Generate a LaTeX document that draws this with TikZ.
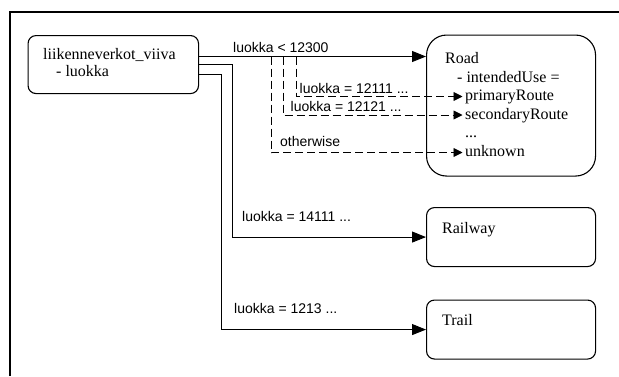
\documentclass[tikz,border=0pt]{standalone}
\usepackage{fontspec}
\setmainfont{Liberation Serif}
\newfontfamily\labelfont{Liberation Sans}
\usetikzlibrary{arrows.meta}

\tikzset{
  box/.style={draw, line width=1.1pt, rounded corners=#1, inner sep=0pt, anchor=north west},
  boxtext/.style={anchor=base west, inner sep=0pt, font=\fontsize{16}{18}\selectfont},
  cond/.style={anchor=base west, inner sep=0pt, font=\labelfont\fontsize{14}{16}\selectfont},
  flow/.style={line width=0.9pt, -{Triangle[length=14pt,width=11pt]}},
  subflow/.style={line width=0.9pt, dash pattern=on 8pt off 4pt, -{Triangle[length=9pt,width=9pt]}},
}

\begin{document}
\begin{tikzpicture}[x=1pt,y=-1pt]
\useasboundingbox (0,0) rectangle (619,376);

% frame (open to the right and bottom)
\draw[line width=2pt] (10,376) -- (10,12.3) -- (619,12.3);

% source feature class
\node[box=8pt, minimum width=170.5pt, minimum height=58pt] (src) at (27.5,35) {};
\node[boxtext] (srcname) at (43,59) {liikenneverkot\_viiva};
\node[boxtext] (srcattr) at (56,76.5) {- luokka};

% target classes
\node[box=20pt, minimum width=169pt, minimum height=141pt] (road) at (426,34.5) {};
\node[box=8pt, minimum width=169pt, minimum height=59pt] (rail) at (426,207) {};
\node[box=8pt, minimum width=169pt, minimum height=59pt] (trail) at (426,299.5) {};

\node[boxtext] (roadname) at (445,63) {Road};
\node[boxtext] (roadattr) at (457,82) {- intendedUse =};
\node[boxtext] (vprim) at (465,100.6) {primaryRoute};
\node[boxtext] (vsec) at (465,119.2) {secondaryRoute};
\node[boxtext] (vdots) at (465,137.8) {...};
\node[boxtext] (vunk) at (465,156.4) {unknown};
\node[boxtext] (railname) at (442,233) {Railway};
\node[boxtext] (trailname) at (442,325) {Trail};

% connection points
\coordinate (o1) at (198,56.5);
\coordinate (o2) at (198,64.5);
\coordinate (o3) at (198,74.5);
\coordinate (inPrim) at (462.5,96.5);
\coordinate (inSec) at (462.5,115);
\coordinate (inUnk) at (462.5,152.5);
\coordinate (b1) at (296,56.5);
\coordinate (b2) at (283,56.5);
\coordinate (b3) at (271,56.5);

% main mappings
\draw[flow] (o1) -- (o1 -| road.west);
\draw[flow] (o2) -- (232,64.5) |- (rail.west);
\draw[flow] (o3) -- (221,74.5) |- (trail.west);

% value mappings for intendedUse
\draw[subflow] (b1) |- (inPrim);
\draw[subflow] (b2) |- (inSec);
\draw[subflow] (b3) |- (inUnk);

% conditions
\node[cond] (c1) at (233,52) {luokka < 12300};
\node[cond] (c2) at (299.5,93) {luokka = 12111 ...};
\node[cond] (c3) at (290.5,111.5) {luokka = 12121 ...};
\node[cond] (c4) at (280,146) {otherwise};
\node[cond] (c5) at (242,221) {luokka = 14111 ...};
\node[cond] (c6) at (234,313) {luokka = 1213 ...};
\end{tikzpicture}
\end{document}
